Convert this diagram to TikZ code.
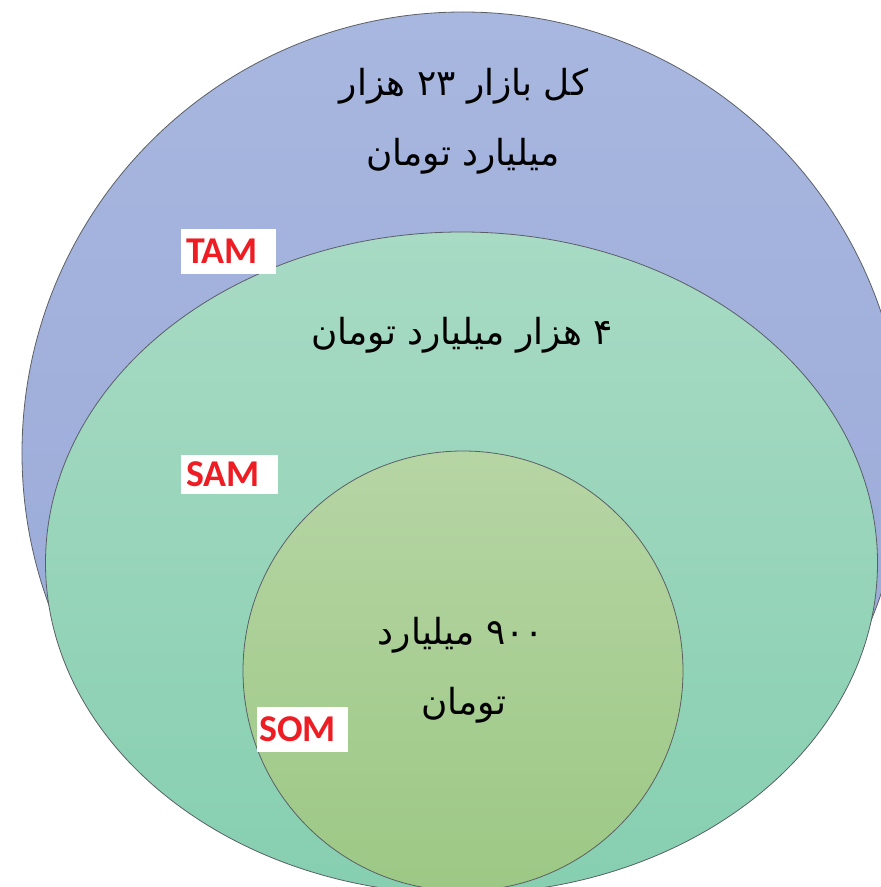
\documentclass[tikz,border=0pt]{standalone}
\usepackage{fontspec}
\setmainfont{Carlito}
\newfontfamily\arabicfont[Script=Arabic]{DejaVu Sans}
\TeXXeTstate=1
\definecolor{tamtop}{HTML}{A8B7DF}
\definecolor{tambot}{HTML}{97A7D6}
\definecolor{samtop}{HTML}{A8DAC4}
\definecolor{sambot}{HTML}{86CFB0}
\definecolor{somtop}{HTML}{B6D5A4}
\definecolor{sombot}{HTML}{9CC884}
\definecolor{labred}{HTML}{EE1D24}
\definecolor{rim}{HTML}{5A5F66}
\begin{document}
\begin{tikzpicture}[x=1bp,y=-1bp,
  ring/.style={draw=rim,line width=0.8bp},
  fa/.style={font=\arabicfont\fontsize{36}{40}\selectfont,anchor=base,inner sep=0pt},
  tag/.style={fill=white,text=labred,font=\bfseries\fontsize{38}{40}\selectfont,
    inner ysep=0pt,align=left,anchor=north west}]
\useasboundingbox (0,0) rectangle (881,887);
\clip (0,0) rectangle (881,887);
\path[ring,top color=tamtop,bottom color=tambot] (463,453) circle [radius=441bp];
\path[ring,top color=samtop,bottom color=sambot] (461.5,563) ellipse [x radius=416bp,y radius=331bp];
\path[ring,top color=somtop,bottom color=sombot] (463,671) circle [radius=220bp];
% texts
\node[fa] (t1) at (464,95) {\beginR کل بازار ۲۳ هزار\endR};
\node[fa] (t2) at (463,165) {\beginR میلیارد تومان\endR};
\node[fa] (t3) at (462,344) {\beginR ۴ هزار میلیارد تومان\endR};
\node[fa] (t4) at (461,644) {\beginR ۹۰۰ میلیارد\endR};
\node[fa] (t5) at (464,714) {\beginR تومان\endR};
% labels
\node[tag,minimum width=95bp,minimum height=45bp,text width=85bp,inner xsep=5bp] (tam) at (181,229) {TAM};
\node[tag,minimum width=97bp,minimum height=39bp,text width=87bp,inner xsep=5bp] (sam) at (181,455) {SAM};
\node[tag,minimum width=91bp,minimum height=45bp,text width=87bp,inner xsep=2bp] (som) at (257,707) {SOM};
\end{tikzpicture}
\end{document}
